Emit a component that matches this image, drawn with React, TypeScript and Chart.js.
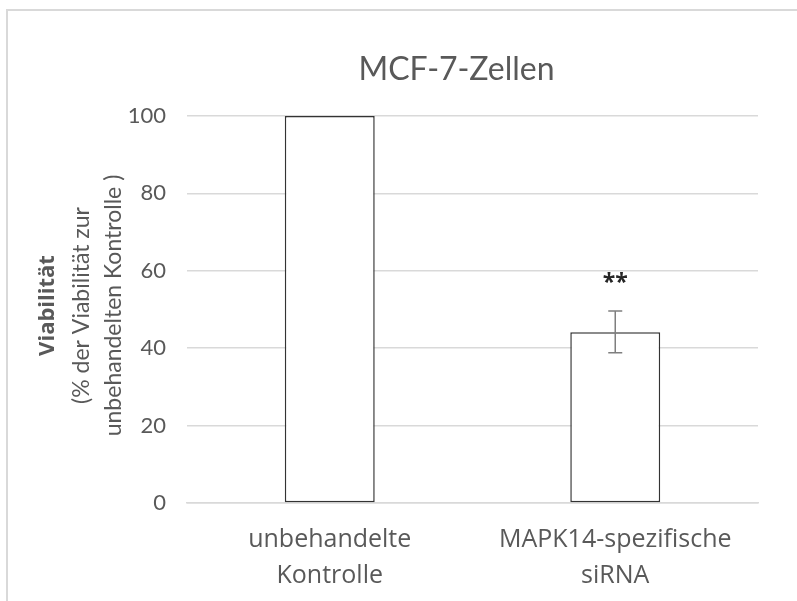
import React, { useEffect, useRef } from "react";
import { Chart, registerables } from "chart.js";

Chart.register(...registerables);

const chartTitle = "MCF-7-Zellen";
const categories: string[][] = [
  ["unbehandelte", "Kontrolle"],
  ["MAPK14-spezifische", "siRNA"],
];
const viability: number[] = [100, 44.1];
const errorLow: (number | null)[] = [null, 38.8];
const errorHigh: (number | null)[] = [null, 49.6];
const significance: string[] = ["", "**"];
const yTitleLines: string[] = ["Viabilität", "(% der Viabilität zur", "unbehandelten Kontrolle )"];
const yMin = 0;
const yMax = 100;
const yStep = 20;

const FONT = "Lato, 'Open Sans', sans-serif";
const WIDE = "'Open Sans', Lato, sans-serif";
const TEXT = "#595959";

const overlayPlugin = {
  id: "overlay",
  afterDatasetsDraw(chart: any) {
    const ctx = chart.ctx;
    const meta = chart.getDatasetMeta(0);
    const y = chart.scales.y;
    ctx.save();
    meta.data.forEach((bar: any, i: number) => {
      const hi = errorHigh[i];
      const lo = errorLow[i];
      if (hi == null || lo == null) return;
      const x = bar.x;
      const yt = y.getPixelForValue(hi);
      const yb = y.getPixelForValue(lo);
      ctx.strokeStyle = "#7f7f7f";
      ctx.lineWidth = 1.5;
      ctx.beginPath();
      ctx.moveTo(x, yt);
      ctx.lineTo(x, yb);
      ctx.moveTo(x - 7, yt);
      ctx.lineTo(x + 7, yt);
      ctx.moveTo(x - 7, yb);
      ctx.lineTo(x + 7, yb);
      ctx.stroke();
      if (significance[i]) {
        ctx.fillStyle = "#262626";
        ctx.font = `bold 23px ${WIDE}`;
        ctx.textAlign = "center";
        ctx.textBaseline = "middle";
        ctx.fillText(significance[i], x, yt - 28);
      }
    });
    ctx.restore();
  },
  afterDraw(chart: any) {
    const ctx = chart.ctx;
    const area = chart.chartArea;
    ctx.save();
    // chart title
    ctx.fillStyle = TEXT;
    ctx.font = `32px ${FONT}`;
    ctx.textAlign = "center";
    ctx.textBaseline = "middle";
    ctx.fillText(chartTitle, area.left + (area.right - area.left) / 2 - 16, 70);
    // y axis title
    const cy = (area.top + area.bottom) / 2 - 4;
    const xs = [48, 82, 114];
    yTitleLines.forEach((line, i) => {
      ctx.save();
      ctx.translate(xs[i], cy);
      ctx.rotate(-Math.PI / 2);
      ctx.font = i === 0 ? `bold 22px ${WIDE}` : `23px ${FONT}`;
      ctx.fillStyle = TEXT;
      ctx.textAlign = "center";
      ctx.textBaseline = "middle";
      ctx.fillText(line, 0, 0);
      ctx.restore();
    });
    ctx.restore();
  },
};

export default function App() {
  const ref = useRef<HTMLCanvasElement | null>(null);
  useEffect(() => {
    if (!ref.current) return;
    const chart = new Chart(ref.current, {
      type: "bar",
      data: {
        labels: categories,
        datasets: [
          {
            data: viability,
            backgroundColor: "#ffffff",
            borderColor: "#333333",
            borderWidth: 1.5,
            borderSkipped: false,
            categoryPercentage: 1,
            barPercentage: 0.315,
          },
        ],
      },
      options: {
        responsive: false,
        animation: false,
        layout: { padding: { left: 0, right: 39, top: 116, bottom: 0 } },
        plugins: { legend: { display: false }, title: { display: false }, tooltip: { enabled: false } },
        scales: {
          x: {
            grid: { display: false, drawTicks: false },
            border: { display: true, color: "#d9d9d9", width: 1.5 },
            ticks: {
              color: TEXT,
              font: { family: WIDE, size: 25, lineHeight: 36 / 25 },
              padding: 19,
              maxRotation: 0,
              autoSkip: false,
            },
            afterFit(scale: any) {
              scale.height = 98;
            },
          },
          y: {
            min: yMin,
            max: yMax,
            grid: { color: "#d9d9d9", lineWidth: 1.5, drawTicks: false },
            border: { display: false },
            ticks: {
              stepSize: yStep,
              color: TEXT,
              font: { family: FONT, size: 22 },
              padding: 21,
            },
            afterFit(scale: any) {
              scale.width = 187;
            },
          },
        },
      },
      plugins: [overlayPlugin],
    });
    return () => chart.destroy();
  }, []);
  return (
    <div style={{ position: "fixed", left: 0, top: 0, width: 797, height: 601, overflow: "hidden", background: "#fff" }}>
      <div
        style={{
          position: "absolute",
          left: 6,
          top: 9,
          width: 1000,
          height: 1000,
          border: "2px solid #d9d9d9",
        }}
      />
      <canvas ref={ref} width={797} height={601} style={{ position: "absolute", left: 0, top: 0 }} />
    </div>
  );
}
